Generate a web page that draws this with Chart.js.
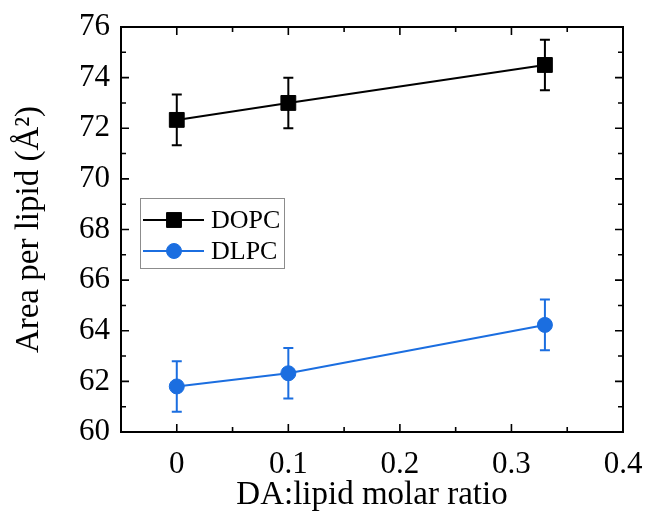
<!DOCTYPE html>
<html>
<head>
<meta charset="utf-8">
<script src="https://cdn.jsdelivr.net/npm/chart.js@4.4.1/dist/chart.umd.min.js"></script>
<style>
  body { margin: 0; background: #fff; }
  #wrap { width: 646px; height: 521px; }
</style>
</head>
<body>
<div id="wrap"><canvas id="area-chart" width="646" height="521"></canvas></div>
<script>
const ratios = [0, 0.1, 0.33];
const dopcArea = [72.33, 73.0, 74.5];
const dopcErr = [1.0, 1.0, 1.0];
const dlpcArea = [61.8, 62.32, 64.23];
const dlpcErr = [1.0, 1.0, 1.0];
const xTicks = [0, 0.1, 0.2, 0.3, 0.4];
const yTicks = [60, 62, 64, 66, 68, 70, 72, 74, 76];

const serif = '"Liberation Serif", "Times New Roman", serif';
const blue = '#1b6ee0';

const toPoints = (ys) => ys.map((y, i) => ({ x: ratios[i], y: y }));

// error bars, drawn under the markers
const errorBars = {
  id: 'errorBars',
  beforeDatasetsDraw(chart) {
    const { ctx, scales: { x, y } } = chart;
    const errs = [dopcErr, dlpcErr];
    chart.data.datasets.forEach((ds, d) => {
      ctx.save();
      ctx.strokeStyle = ds.borderColor;
      ctx.lineWidth = 2;
      ds.data.forEach((p, i) => {
        const px = x.getPixelForValue(p.x);
        const top = y.getPixelForValue(p.y + errs[d][i]);
        const bot = y.getPixelForValue(p.y - errs[d][i]);
        ctx.beginPath();
        ctx.moveTo(px, top); ctx.lineTo(px, bot);
        ctx.moveTo(px - 5, top); ctx.lineTo(px + 5, top);
        ctx.moveTo(px - 5, bot); ctx.lineTo(px + 5, bot);
        ctx.stroke();
      });
      ctx.restore();
    });
  }
};

// box frame with inward ticks on all four sides
const frame = {
  id: 'frame',
  afterDatasetsDraw(chart) {
    const { ctx, chartArea: a, scales: { x, y } } = chart;
    ctx.save();
    ctx.strokeStyle = '#000';
    ctx.lineWidth = 2;
    ctx.strokeRect(a.left, a.top, a.right - a.left, a.bottom - a.top);
    ctx.lineWidth = 1.6;
    ctx.beginPath();
    for (let v = 0; v <= 8; v++) {
      const px = x.getPixelForValue(v * 0.05);
      const len = v % 2 === 0 ? 8 : 5;
      ctx.moveTo(px, a.bottom); ctx.lineTo(px, a.bottom - len);
      ctx.moveTo(px, a.top); ctx.lineTo(px, a.top + len);
    }
    for (let v = 61; v < 76; v++) {
      const py = y.getPixelForValue(v);
      const len = v % 2 === 0 ? 8 : 5;
      ctx.moveTo(a.left, py); ctx.lineTo(a.left + len, py);
      ctx.moveTo(a.right, py); ctx.lineTo(a.right - len, py);
    }
    ctx.stroke();
    ctx.restore();
  }
};

// legend box inside the plot
const boxLegend = {
  id: 'boxLegend',
  afterDraw(chart) {
    const { ctx } = chart;
    ctx.save();
    ctx.strokeStyle = '#8c8c8c';
    ctx.lineWidth = 1;
    ctx.strokeRect(140.5, 198.5, 144, 70);
    const rows = [220, 251];
    chart.data.datasets.forEach((ds, i) => {
      const ry = rows[i];
      ctx.strokeStyle = ds.borderColor;
      ctx.fillStyle = ds.backgroundColor;
      ctx.lineWidth = 2;
      ctx.beginPath();
      ctx.moveTo(143, ry); ctx.lineTo(204, ry);
      ctx.stroke();
      ctx.lineWidth = 1;
      Chart.helpers.drawPoint(ctx, {
        pointStyle: ds.pointStyle,
        radius: ds.pointRadius,
        borderWidth: 1
      }, 174, ry);
      ctx.fillStyle = '#000';
      ctx.font = '26px ' + serif;
      ctx.textBaseline = 'middle';
      ctx.textAlign = 'left';
      ctx.fillText(ds.label, 211, ry + 1);
    });
    ctx.restore();
  }
};

const config = {
  type: 'line',
  data: {
    datasets: [{
      label: 'DOPC',
      data: toPoints(dopcArea),
      borderColor: '#000',
      backgroundColor: '#000',
      borderWidth: 2,
      pointStyle: 'rect',
      pointRadius: 10.5,
      pointBorderWidth: 1
    }, {
      label: 'DLPC',
      data: toPoints(dlpcArea),
      borderColor: blue,
      backgroundColor: blue,
      borderWidth: 2,
      pointStyle: 'circle',
      pointRadius: 7.5,
      pointBorderWidth: 1
    }]
  },
  options: {
    responsive: false,
    animation: false,
    layout: { padding: { top: 27, right: 23, left: 0, bottom: 0 } },
    scales: {
      x: {
        type: 'linear',
        min: -0.05,
        max: 0.4,
        grid: { display: false, drawTicks: false },
        border: { display: false },
        afterBuildTicks: (scale) => { scale.ticks = xTicks.map(v => ({ value: v })); },
        afterFit: (scale) => {
          scale.height = 89;
          scale.paddingLeft = 0;
          scale.paddingRight = 0;
        },
        ticks: {
          color: '#000',
          padding: 14,
          font: { family: serif, size: 31 },
          callback: (v) => String(v)
        },
        title: {
          display: true,
          text: 'DA:lipid molar ratio',
          color: '#000',
          font: { family: serif, size: 33 },
          padding: { top: 0, bottom: 6 }
        }
      },
      y: {
        min: 60,
        max: 76,
        grid: { display: false, drawTicks: false },
        border: { display: false },
        afterBuildTicks: (scale) => { scale.ticks = yTicks.map(v => ({ value: v })); },
        afterFit: (scale) => {
          scale.width = 121;
          scale.paddingTop = 0;
          scale.paddingBottom = 0;
        },
        ticks: {
          color: '#000',
          padding: 11,
          font: { family: serif, size: 31 }
        },
        title: {
          display: true,
          text: 'Area per lipid (Å²)',
          color: '#000',
          font: { family: serif, size: 33 },
          padding: { top: 10, bottom: 0 }
        }
      }
    },
    plugins: {
      legend: { display: false },
      tooltip: { enabled: false }
    }
  },
  plugins: [errorBars, frame, boxLegend]
};

const areaChart = new Chart(document.getElementById('area-chart'), config);
</script>
</body>
</html>
